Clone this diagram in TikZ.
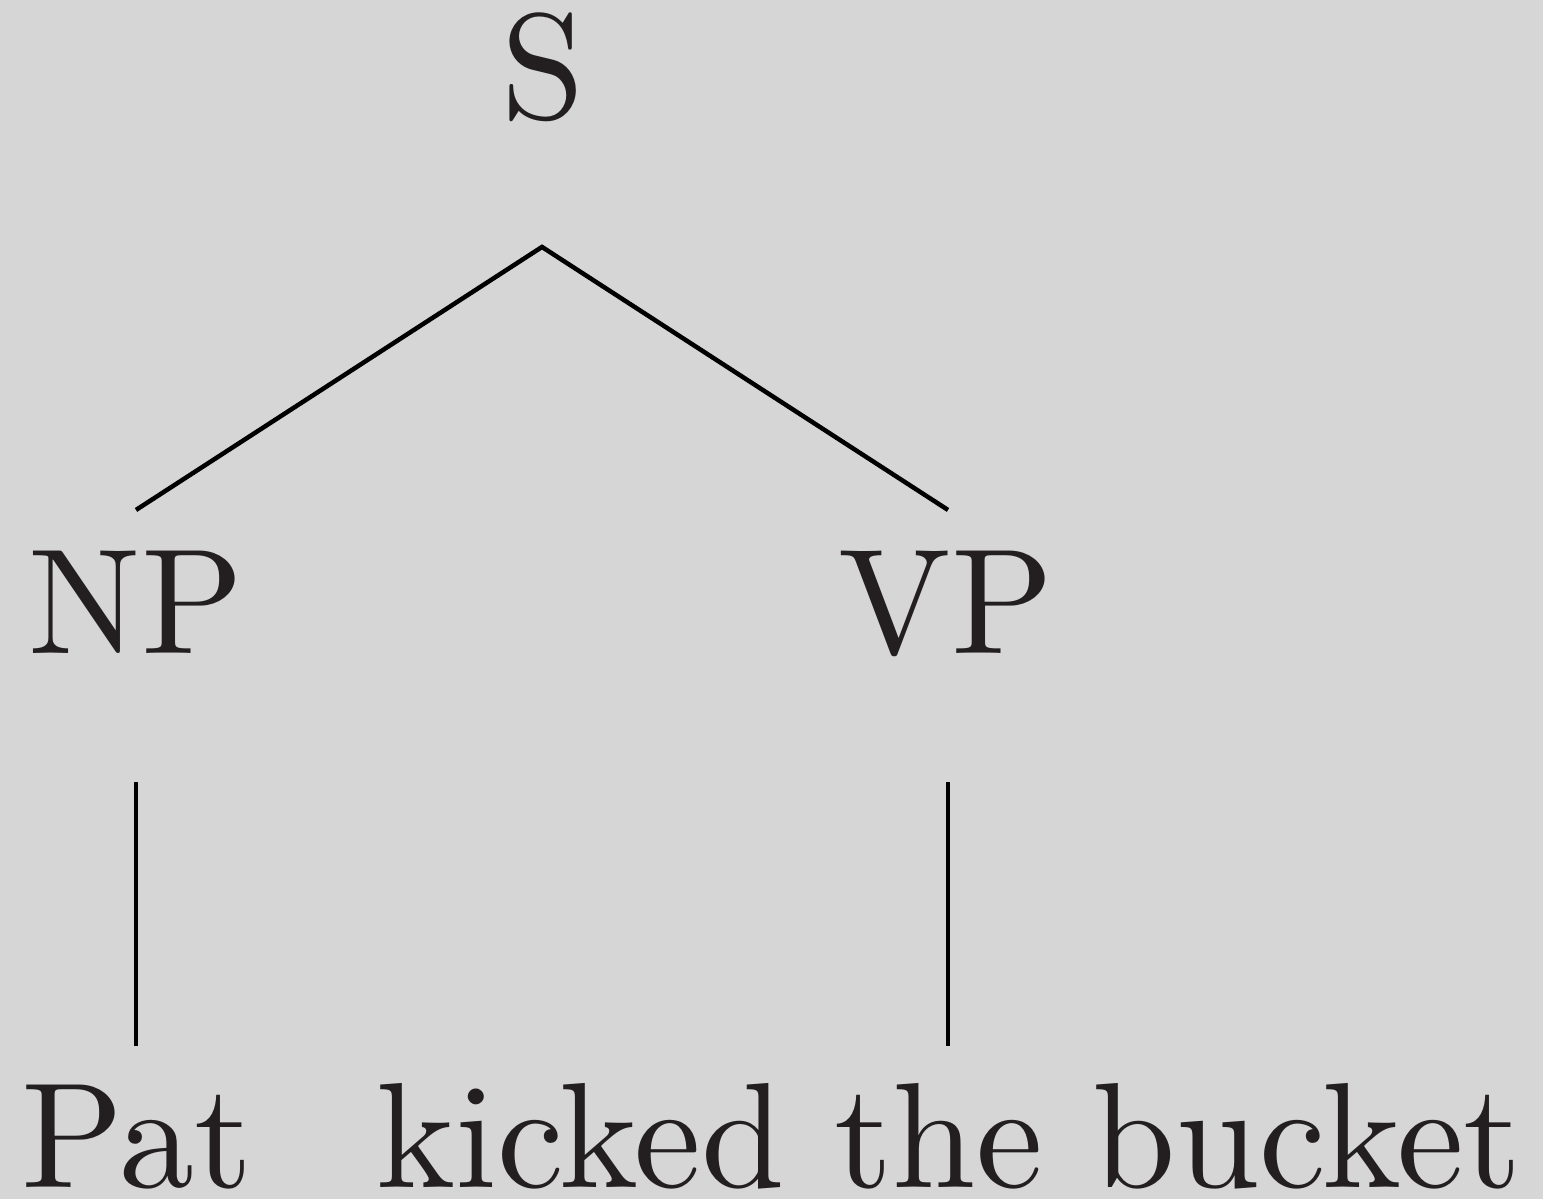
\documentclass[tikz,border=0pt]{standalone}
\definecolor{paper}{HTML}{D6D6D6}
\definecolor{ink}{HTML}{231F20}
\begin{document}
\begin{tikzpicture}[x=0.066667pt, y=-0.066667pt,
  label/.style={anchor=base, inner sep=0pt, text=ink, font=\fontsize{10}{12}\selectfont},
  branch/.style={draw=black, line width=0.3pt}]
  % page and background
  \fill[paper] (0,0) rectangle (1543,1199);
  \useasboundingbox (0,0) rectangle (1543,1199);

  % labels of the tree
  \node[label] (S)   at (543,119)  {S};
  \node[label] (NP)  at (136,654)  {NP};
  \node[label] (VP)  at (946,654)  {VP};
  \node[label] (Pat) at (137,1188) {Pat};
  \node[label] (KTB) at (949,1188) {kicked the bucket};

  % ends of the branches
  \coordinate (S-foot)   at (542,247);
  \coordinate (NP-head)  at (136,510);
  \coordinate (VP-head)  at (948,510);
  \coordinate (NP-foot)  at (136,782);
  \coordinate (Pat-head) at (136,1046);
  \coordinate (VP-foot)  at (948,782);
  \coordinate (KTB-head) at (948,1046);

  % branches
  \draw[branch] (NP-head) -- (S-foot) -- (VP-head);
  \draw[branch] (NP-foot) -- (Pat-head);
  \draw[branch] (VP-foot) -- (KTB-head);
\end{tikzpicture}
\end{document}
